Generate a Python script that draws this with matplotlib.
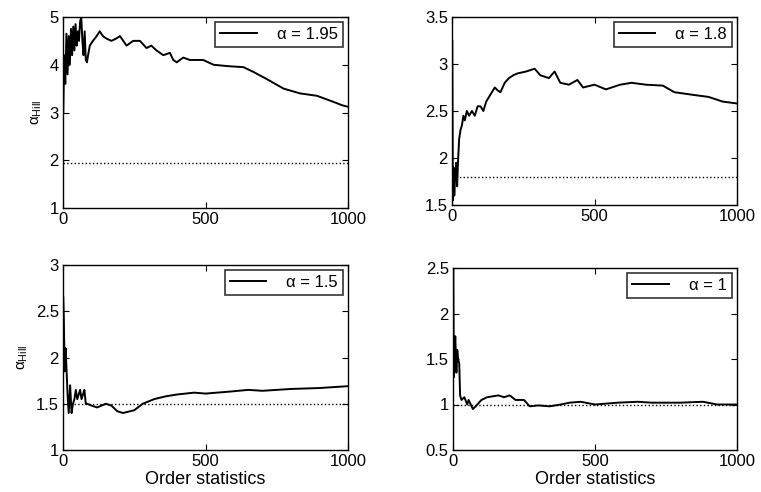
import numpy as np
import matplotlib.pyplot as plt

plt.rcParams['font.family'] = ['Liberation Sans', 'DejaVu Sans']
plt.rcParams['mathtext.default'] = 'regular'

# Hill estimates against number of order statistics, one panel per true alpha
k1 = [1, 4, 8, 12, 16, 20, 24, 28, 32, 36, 40, 44, 48, 52, 56, 60, 64, 68, 72, 76, 80, 84, 88,
      94, 105, 118, 129, 140, 152, 170, 187, 200, 223, 246, 270, 293, 310, 328, 352, 375, 387,
      399, 410, 422, 445, 470, 492, 528, 580, 633, 668, 715, 774, 832, 891, 950, 980, 1000]
h1 = [3.0, 4.2, 3.6, 4.65, 3.8, 4.6, 4.0, 4.75, 4.2, 4.8, 4.3, 4.85, 4.4, 4.7, 4.5, 4.9, 5.0,
      4.5, 4.2, 4.7, 4.1, 4.05, 4.2, 4.4, 4.5, 4.6, 4.7, 4.6, 4.55, 4.5, 4.55, 4.6, 4.4, 4.5,
      4.5, 4.35, 4.4, 4.3, 4.2, 4.25, 4.1, 4.05, 4.1, 4.15, 4.1, 4.1, 4.1, 4.0, 3.97, 3.95,
      3.85, 3.7, 3.5, 3.4, 3.35, 3.22, 3.15, 3.12]

k2 = [1, 3, 5, 8, 11, 15, 18, 21, 25, 30, 35, 40, 45, 52, 60, 70, 80, 90, 100, 110, 120, 130,
      140, 150, 160, 170, 185, 200, 215, 230, 260, 290, 310, 340, 360, 380, 410, 440, 460, 500,
      540, 590, 630, 680, 740, 780, 850, 900, 950, 1000]
h2 = [3.25, 1.55, 1.9, 1.6, 1.8, 1.95, 1.7, 1.95, 2.2, 2.3, 2.35, 2.45, 2.4, 2.5, 2.45, 2.5,
      2.45, 2.55, 2.55, 2.5, 2.6, 2.65, 2.7, 2.75, 2.72, 2.7, 2.8, 2.85, 2.88, 2.9, 2.92, 2.95,
      2.88, 2.85, 2.92, 2.8, 2.78, 2.83, 2.75, 2.78, 2.73, 2.78, 2.8, 2.78, 2.77, 2.7, 2.67,
      2.65, 2.6, 2.58]

k3 = [1, 3, 6, 9, 12, 16, 20, 25, 30, 35, 40, 45, 50, 55, 60, 65, 70, 75, 80, 85, 100, 120,
      150, 170, 190, 210, 250, 280, 320, 360, 400, 460, 500, 580, 650, 700, 800, 900, 950, 1000]
h3 = [2.65, 2.4, 1.85, 2.1, 1.9, 1.6, 1.4, 1.7, 1.4, 1.5, 1.55, 1.65, 1.55, 1.6, 1.65, 1.55,
      1.6, 1.65, 1.5, 1.5, 1.48, 1.46, 1.5, 1.48, 1.42, 1.4, 1.43, 1.5, 1.55, 1.58, 1.6, 1.62,
      1.61, 1.63, 1.65, 1.64, 1.66, 1.67, 1.68, 1.69]

k4 = [1, 3, 6, 8, 12, 15, 18, 22, 25, 30, 40, 50, 55, 70, 80, 100, 120, 160, 180, 200, 220,
      250, 270, 300, 340, 380, 410, 450, 500, 580, 650, 700, 800, 880, 930, 1000]
h4 = [2.5, 1.3, 1.6, 1.75, 1.35, 1.6, 1.5, 1.45, 1.1, 1.05, 1.08, 1.0, 1.05, 0.95, 0.98, 1.05,
      1.08, 1.1, 1.08, 1.1, 1.05, 1.05, 0.98, 0.99, 0.98, 1.0, 1.02, 1.03, 1.0, 1.02, 1.03,
      1.02, 1.02, 1.03, 1.0, 1.0]

alphas = [1.95, 1.8, 1.5, 1]
series = [(k1, h1), (k2, h2), (k3, h3), (k4, h4)]
ylims = [(1, 5), (1.5, 3.5), (1, 3), (0.5, 2.5)]
yticks = [[1, 2, 3, 4, 5], [1.5, 2, 2.5, 3, 3.5], [1, 1.5, 2, 2.5, 3], [0.5, 1, 1.5, 2, 2.5]]
ylabels = ['1', '2', '3', '4', '5'], ['1.5', '2', '2.5', '3', '3.5'], \
          ['1', '1.5', '2', '2.5', '3'], ['0.5', '1', '1.5', '2', '2.5']

fig = plt.figure(figsize=(7.61, 4.92), dpi=100)
W, H = 761, 492
boxes = [(63, 17, 348, 208), (452, 17, 737, 205), (63, 265, 348, 450), (453, 268, 737, 450)]

for i, (l, t, r, b) in enumerate(boxes):
    ax = fig.add_axes([l / W, 1 - b / H, (r - l) / W, (b - t) / H])
    k, h = series[i]
    ax.plot(k, h, color='black', lw=1.4, label='α = %g' % alphas[i])
    ax.plot([0, 1000], [alphas[i], alphas[i]], color='black', lw=1.0, ls=':')
    ax.set_xlim(0, 1000)
    ax.set_ylim(*ylims[i])
    ax.set_xticks([0, 500, 1000])
    ax.set_yticks(yticks[i])
    ax.set_yticklabels(ylabels[i])
    ax.tick_params(direction='in', top=True, right=True, labelsize=12, length=4, width=0.8)
    ax.tick_params(axis='x', pad=3)
    ax.tick_params(axis='y', pad=3)
    for s in ax.spines.values():
        s.set_linewidth(1.0)
    leg = ax.legend(loc='upper right', fontsize=12, frameon=True, fancybox=False,
                    edgecolor='black', handlelength=2.2, handletextpad=1.2,
                    borderpad=0.3, borderaxespad=0.3)
    leg.get_frame().set_linewidth(1.2)
    if i % 2 == 0:
        ax.set_ylabel(r'$\alpha_{Hill}$', fontsize=11, labelpad=4)
    if i >= 2:
        ax.set_xlabel('Order statistics', fontsize=13, labelpad=1)

fig.savefig('out.png', dpi=100)
